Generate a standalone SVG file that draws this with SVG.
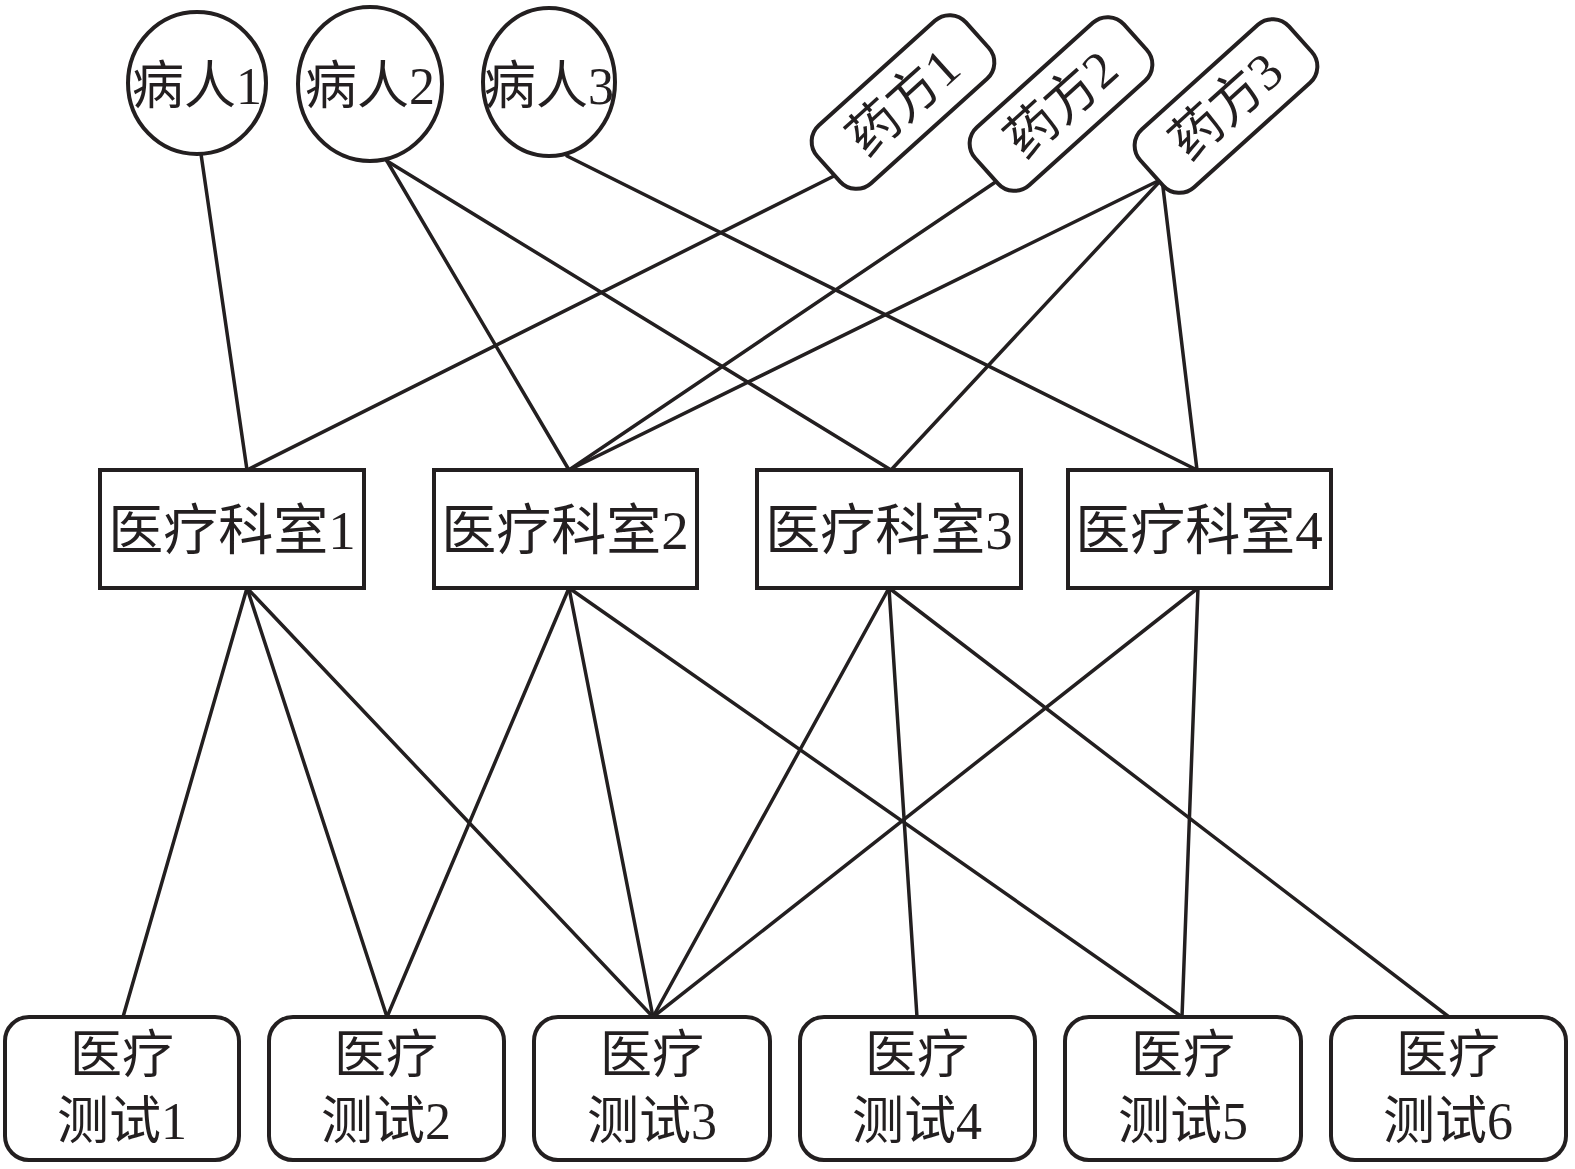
<svg xmlns="http://www.w3.org/2000/svg" width="1575" height="1169" viewBox="0 0 1575 1169">
<style>
.n{fill:#fff;stroke:#231f20;stroke-width:4}
.t{font-family:"Liberation Serif","Noto Sans CJK SC",serif;font-size:52px;fill:#231f20;text-anchor:middle}
.d{font-size:55px}
.c line{stroke:#231f20;stroke-width:3.5;stroke-linecap:round}
</style>
<rect width="1575" height="1169" fill="#fff"/>
<g class="c" id="connectors">
<line x1="201" y1="154" x2="247" y2="470"/>
<line x1="387" y1="161" x2="569" y2="470"/>
<line x1="387" y1="161" x2="891" y2="470"/>
<line x1="567" y1="156" x2="1197" y2="470"/>
<line x1="834" y1="176" x2="247" y2="470"/>
<line x1="997" y1="181" x2="569" y2="470"/>
<line x1="1162" y1="179" x2="569" y2="470"/>
<line x1="1162" y1="179" x2="891" y2="470"/>
<line x1="1162" y1="179" x2="1197" y2="470"/>
<line x1="247" y1="588" x2="123" y2="1017"/>
<line x1="247" y1="588" x2="387" y2="1017"/>
<line x1="247" y1="588" x2="653" y2="1017"/>
<line x1="569" y1="588" x2="387" y2="1017"/>
<line x1="569" y1="588" x2="653" y2="1017"/>
<line x1="569" y1="588" x2="1182" y2="1017"/>
<line x1="889" y1="588" x2="653" y2="1017"/>
<line x1="889" y1="588" x2="917" y2="1017"/>
<line x1="889" y1="588" x2="1449" y2="1017"/>
<line x1="1198" y1="588" x2="653" y2="1017"/>
<line x1="1198" y1="588" x2="1182" y2="1017"/>
</g>
<g id="p1"><ellipse class="n" cx="197" cy="83" rx="69" ry="71"/><text class="t" x="197" y="104">病人1</text></g>
<g id="p2"><ellipse class="n" cx="370" cy="84" rx="72" ry="77"/><text class="t" x="370" y="104">病人2</text></g>
<g id="p3"><ellipse class="n" cx="549" cy="82" rx="66" ry="74"/><text class="t" x="549" y="104">病人3</text></g>
<g id="m1" transform="translate(903,102) rotate(-42)"><rect class="n" x="-100" y="-39" width="200" height="78" rx="22"/><text class="t" x="0" y="18">药方1</text></g>
<g id="m2" transform="translate(1061,104) rotate(-42)"><rect class="n" x="-100" y="-39" width="200" height="78" rx="22"/><text class="t" x="0" y="18">药方2</text></g>
<g id="m3" transform="translate(1226,106) rotate(-42)"><rect class="n" x="-100" y="-39" width="200" height="78" rx="22"/><text class="t" x="0" y="18">药方3</text></g>
<g id="d1"><rect class="n" x="100" y="470" width="264" height="118"/><text class="t d" x="232" y="549">医疗科室1</text></g>
<g id="d2"><rect class="n" x="434" y="470" width="263" height="118"/><text class="t d" x="565" y="549">医疗科室2</text></g>
<g id="d3"><rect class="n" x="757" y="470" width="264" height="118"/><text class="t d" x="889" y="549">医疗科室3</text></g>
<g id="d4"><rect class="n" x="1068" y="470" width="263" height="118"/><text class="t d" x="1199" y="549">医疗科室4</text></g>
<g id="t1"><rect class="n" x="5" y="1017" width="234" height="143" rx="24"/><text class="t" x="122" y="1073">医疗</text><text class="t" x="122" y="1139">测试1</text></g>
<g id="t2"><rect class="n" x="269" y="1017" width="235" height="143" rx="24"/><text class="t" x="386" y="1073">医疗</text><text class="t" x="386" y="1139">测试2</text></g>
<g id="t3"><rect class="n" x="534" y="1017" width="236" height="143" rx="24"/><text class="t" x="652" y="1073">医疗</text><text class="t" x="652" y="1139">测试3</text></g>
<g id="t4"><rect class="n" x="800" y="1017" width="235" height="143" rx="24"/><text class="t" x="917" y="1073">医疗</text><text class="t" x="917" y="1139">测试4</text></g>
<g id="t5"><rect class="n" x="1065" y="1017" width="236" height="143" rx="24"/><text class="t" x="1183" y="1073">医疗</text><text class="t" x="1183" y="1139">测试5</text></g>
<g id="t6"><rect class="n" x="1331" y="1017" width="235" height="143" rx="24"/><text class="t" x="1448" y="1073">医疗</text><text class="t" x="1448" y="1139">测试6</text></g>
</svg>
